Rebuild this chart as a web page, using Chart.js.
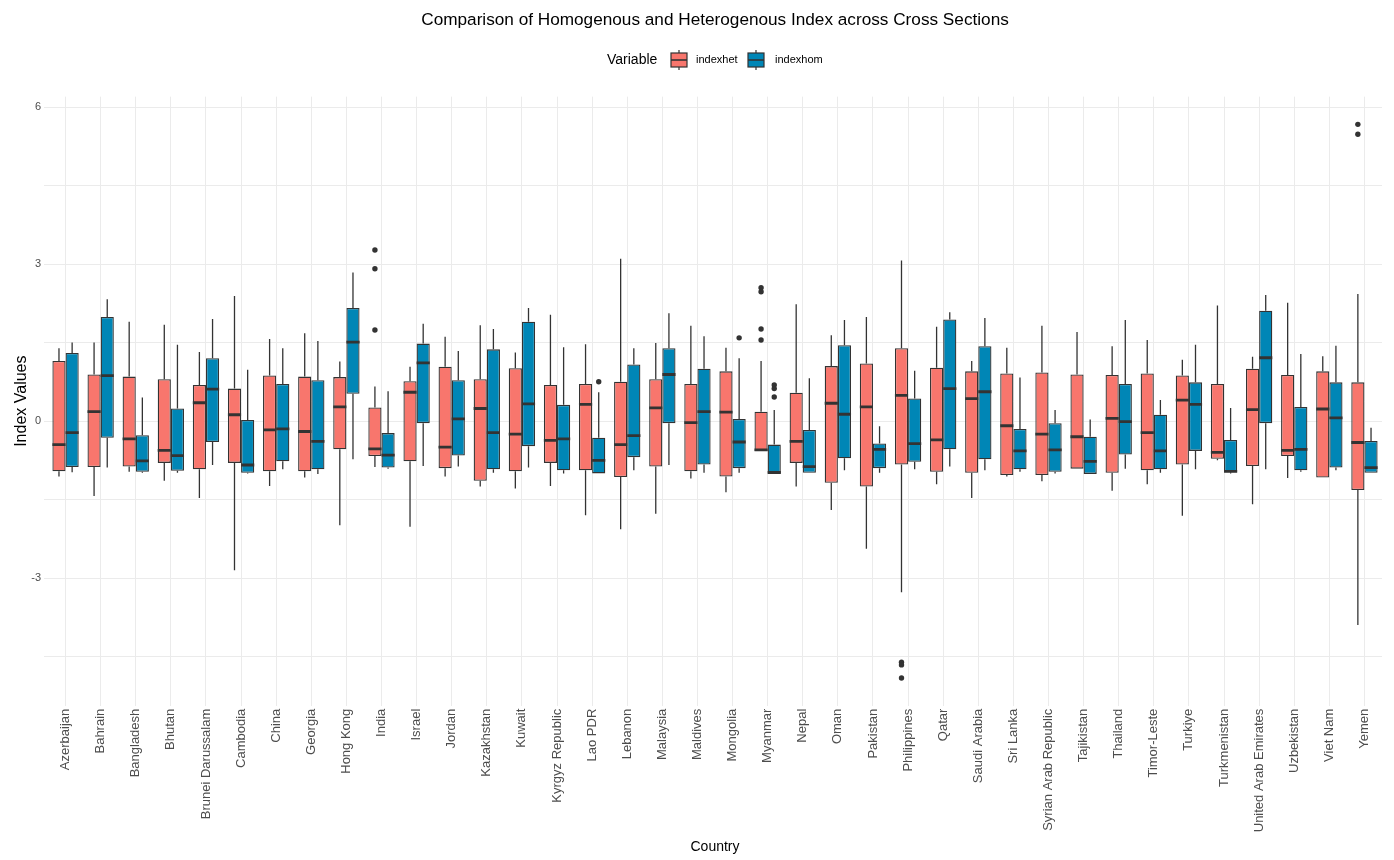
<!DOCTYPE html>
<html>
<head>
<meta charset="utf-8">
<title>Homogenous vs Heterogenous Index</title>
<script src="https://cdn.jsdelivr.net/npm/chart.js@4.4.1/dist/chart.umd.min.js"></script>
<style>
  html, body { margin: 0; padding: 0; background: #ffffff; }
  #wrap { width: 1394px; height: 860px; }
</style>
</head>
<body>
<div id="wrap"><canvas id="chart" width="1394" height="860"></canvas></div>
<script>
// ---- data -------------------------------------------------------------
const countries = [
  'Azerbaijan', 'Bahrain', 'Bangladesh', 'Bhutan', 'Brunei Darussalam', 'Cambodia',
  'China', 'Georgia', 'Hong Kong', 'India', 'Israel', 'Jordan', 'Kazakhstan', 'Kuwait',
  'Kyrgyz Republic', 'Lao PDR', 'Lebanon', 'Malaysia', 'Maldives', 'Mongolia', 'Myanmar',
  'Nepal', 'Oman', 'Pakistan', 'Philippines', 'Qatar', 'Saudi Arabia', 'Sri Lanka',
  'Syrian Arab Republic', 'Tajikistan', 'Thailand', 'Timor-Leste', 'Turkiye',
  'Turkmenistan', 'United Arab Emirates', 'Uzbekistan', 'Viet Nam', 'Yemen'
];

// indexhet: whisker ends, quartiles and median per country
const hetLow  = [-1.06,-1.43,-0.97,-1.14,-1.47,-2.85,-1.24,-1.08,-1.99,-0.88,-2.02,-1.06,-1.25,-1.29,-1.24,-1.80,-2.07,-1.77,-1.10,-1.36,-0.57,-1.25,-1.70,-2.44,-3.27,-1.21,-1.47,-1.06,-1.15,-0.91,-1.33,-1.21,-1.81,-0.75,-1.59,-1.09,-1.08,-3.90];
const hetQ1   = [-0.96,-0.88,-0.87,-0.80,-0.92,-0.80,-0.96,-0.96,-0.54,-0.67,-0.77,-0.90,-1.14,-0.96,-0.80,-0.94,-1.07,-0.87,-0.96,-1.06,-0.57,-0.80,-1.18,-1.25,-0.83,-0.97,-0.99,-1.03,-1.03,-0.91,-0.99,-0.94,-0.83,-0.72,-0.86,-0.67,-1.08,-1.32];
const hetMed  = [-0.45, 0.18,-0.34,-0.56, 0.35, 0.12,-0.17,-0.20, 0.27,-0.53, 0.55,-0.50, 0.24,-0.25,-0.37, 0.32,-0.45, 0.25,-0.03, 0.17,-0.55,-0.39, 0.34, 0.27, 0.49,-0.36, 0.43,-0.09,-0.25,-0.30, 0.05,-0.22, 0.40,-0.60, 0.22,-0.56, 0.23,-0.41];
const hetQ3   = [ 1.15, 0.89, 0.85, 0.80, 0.69, 0.62, 0.87, 0.85, 0.84, 0.26, 0.76, 1.04, 0.80, 1.01, 0.69, 0.71, 0.75, 0.80, 0.71, 0.95, 0.18, 0.54, 1.05, 1.10, 1.39, 1.02, 0.95, 0.91, 0.93, 0.89, 0.88, 0.91, 0.87, 0.71, 1.00, 0.88, 0.95, 0.74];
const hetHigh = [ 1.39, 1.50, 1.90, 1.84, 1.32, 2.39, 1.57, 1.68, 1.14, 0.66, 1.04, 1.61, 1.83, 1.31, 2.03, 1.47, 3.10, 1.49, 1.82, 1.40, 1.15, 2.23, 1.64, 1.99, 3.07, 1.80, 1.15, 1.40, 1.82, 1.70, 1.43, 1.55, 1.17, 2.21, 1.23, 2.26, 1.24, 2.43];
const hetOutliers = {
  'India': [3.27, 2.91, 1.74],
  'Myanmar': [2.55, 2.47, 1.76, 1.55],
  'Philippines': [-4.61, -4.66, -4.91],
  'Yemen': [5.67, 5.48]
};

// indexhom: whisker ends, quartiles and median per country
const homLow  = [-0.98,-0.89,-0.99,-0.99,-0.84,-1.00,-0.92,-1.01,-0.73,-0.91,-0.86,-0.87,-0.99,-0.89,-1.00,-1.00,-0.94,-0.84,-0.99,-0.99,-1.01,-0.99,-0.94,-0.99,-0.92,-0.87,-0.94,-0.97,-1.00,-1.01,-0.91,-0.99,-0.92,-1.00,-0.92,-0.97,-0.94,-0.99];
const homQ1   = [-0.88,-0.32,-0.97,-0.95,-0.40,-0.99,-0.77,-0.92, 0.52,-0.89,-0.04,-0.66,-0.92,-0.48,-0.94,-1.00,-0.69,-0.04,-0.83,-0.90,-1.01,-0.99,-0.71,-0.90,-0.78,-0.54,-0.73,-0.92,-0.97,-1.01,-0.64,-0.92,-0.57,-0.98,-0.04,-0.94,-0.89,-0.99];
const homMed  = [-0.22, 0.87,-0.76,-0.66, 0.61,-0.84,-0.15,-0.39, 1.51,-0.65, 1.11, 0.04,-0.22, 0.33,-0.34,-0.75,-0.28, 0.89, 0.18,-0.40,-0.98,-0.87, 0.13,-0.54,-0.43, 0.62, 0.56,-0.57,-0.55,-0.77,-0.01,-0.57, 0.32,-0.96, 1.21,-0.54, 0.06,-0.89];
const homQ3   = [ 1.30, 1.99,-0.27, 0.24, 1.20, 0.02, 0.71, 0.78, 2.16,-0.23, 1.48, 0.78, 1.37, 1.90, 0.31,-0.32, 1.08, 1.39, 1.00, 0.04,-0.45,-0.17, 1.45,-0.43, 0.43, 1.94, 1.43,-0.15,-0.04,-0.30, 0.71, 0.12, 0.74,-0.36, 2.11, 0.27, 0.74,-0.38];
const homHigh = [ 1.50, 2.33, 0.45, 1.46, 1.95, 0.98, 1.39, 1.53, 2.84, 0.57, 1.86, 1.34, 1.76, 2.16, 1.41, 0.55, 1.39, 2.06, 1.62, 1.20, 0.21, 0.82, 1.93,-0.10, 0.96, 2.08, 1.97, 0.83, 0.21, 0.03, 1.93, 0.40, 1.46, 0.25, 2.41, 1.28, 1.44,-0.13];
const homOutliers = {
  'Lao PDR': [0.75],
  'Mongolia': [1.59],
  'Myanmar': [0.69, 0.62, 0.46]
};

const yTickValues = [-4.5, -3, -1.5, 0, 1.5, 3, 4.5, 6];

// ---- styling ------------------------------------------------------------
const FONT = "'Liberation Sans', Arial, sans-serif";
const HET_FILL = '#F8766D';
const HOM_FILL = '#0086B6';
const INK = '#333333';
const GRID = '#ebebeb';

Chart.defaults.font.family = FONT;

function boxData(q1, q3) {
  return q1.map((lo, i) => [lo, q3[i]]);
}
function outlierList(map) {
  return countries.map(c => map[c] || []);
}

// whiskers, medians and outlier dots drawn around the floating bars
const boxplotParts = {
  id: 'boxplotParts',
  beforeDatasetsDraw(chart) {
    const { ctx, scales: { y }, chartArea } = chart;
    ctx.save();
    ctx.beginPath();
    ctx.rect(chartArea.left, chartArea.top, chartArea.width, chartArea.height);
    ctx.clip();
    ctx.strokeStyle = INK;
    ctx.lineWidth = 1.3;
    chart.data.datasets.forEach((ds, di) => {
      const meta = chart.getDatasetMeta(di);
      meta.data.forEach((bar, i) => {
        const { x } = bar.getProps(['x'], true);
        const s = ds.stats;
        ctx.beginPath();
        ctx.moveTo(x, y.getPixelForValue(s.high[i]));
        ctx.lineTo(x, y.getPixelForValue(s.q3[i]));
        ctx.moveTo(x, y.getPixelForValue(s.q1[i]));
        ctx.lineTo(x, y.getPixelForValue(s.low[i]));
        ctx.stroke();
      });
    });
    ctx.restore();
  },
  afterDatasetsDraw(chart) {
    const { ctx, scales: { y }, chartArea } = chart;
    ctx.save();
    ctx.beginPath();
    ctx.rect(chartArea.left, chartArea.top, chartArea.width, chartArea.height);
    ctx.clip();
    chart.data.datasets.forEach((ds, di) => {
      const meta = chart.getDatasetMeta(di);
      meta.data.forEach((bar, i) => {
        const { x, width } = bar.getProps(['x', 'width'], true);
        const s = ds.stats;
        const my = y.getPixelForValue(s.med[i]);
        ctx.strokeStyle = INK;
        ctx.lineWidth = 2.8;
        ctx.beginPath();
        ctx.moveTo(x - width / 2, my);
        ctx.lineTo(x + width / 2, my);
        ctx.stroke();
        ctx.fillStyle = INK;
        s.out[i].forEach(v => {
          ctx.beginPath();
          ctx.arc(x, y.getPixelForValue(v), 2.7, 0, Math.PI * 2);
          ctx.fill();
        });
      });
    });
    ctx.restore();
  }
};

// legend row: "Variable" followed by one boxplot key per series
const boxLegend = {
  id: 'boxLegend',
  afterDraw(chart) {
    const { ctx } = chart;
    const cy = 60;
    ctx.save();
    ctx.fillStyle = '#000000';
    ctx.textBaseline = 'middle';
    ctx.textAlign = 'left';
    ctx.font = `14px ${FONT}`;
    ctx.fillText('Variable', 607, cy);
    const keys = [
      { x: 671, fill: HET_FILL, label: chart.data.datasets[0].label, tx: 696 },
      { x: 748, fill: HOM_FILL, label: chart.data.datasets[1].label, tx: 775 }
    ];
    keys.forEach(k => {
      const w = 16, h = 14, mid = k.x + w / 2;
      ctx.strokeStyle = INK;
      ctx.lineWidth = 1.2;
      ctx.beginPath();
      ctx.moveTo(mid, cy - 10); ctx.lineTo(mid, cy - h / 2);
      ctx.moveTo(mid, cy + h / 2); ctx.lineTo(mid, cy + 10);
      ctx.stroke();
      ctx.fillStyle = k.fill;
      ctx.fillRect(k.x, cy - h / 2, w, h);
      ctx.strokeRect(k.x, cy - h / 2, w, h);
      ctx.lineWidth = 1.6;
      ctx.beginPath();
      ctx.moveTo(k.x, cy); ctx.lineTo(k.x + w, cy);
      ctx.stroke();
      ctx.fillStyle = '#000000';
      ctx.font = `11px ${FONT}`;
      ctx.fillText(k.label, k.tx, cy);
    });
    ctx.restore();
  }
};

new Chart(document.getElementById('chart'), {
  type: 'bar',
  data: {
    labels: countries,
    datasets: [
      {
        label: 'indexhet',
        data: boxData(hetQ1, hetQ3),
        stats: { low: hetLow, q1: hetQ1, med: hetMed, q3: hetQ3, high: hetHigh, out: outlierList(hetOutliers) },
        backgroundColor: HET_FILL,
        borderColor: INK,
        borderWidth: 1.3,
        borderSkipped: false
      },
      {
        label: 'indexhom',
        data: boxData(homQ1, homQ3),
        stats: { low: homLow, q1: homQ1, med: homMed, q3: homQ3, high: homHigh, out: outlierList(homOutliers) },
        backgroundColor: HOM_FILL,
        borderColor: INK,
        borderWidth: 1.3,
        borderSkipped: false
      }
    ]
  },
  options: {
    responsive: false,
    animation: false,
    devicePixelRatio: 1,
    datasets: { bar: { categoryPercentage: 0.75, barPercentage: 1.0 } },
    layout: { padding: { left: 0, right: 12, top: 0, bottom: 0 } },
    plugins: {
      legend: { display: false },
      tooltip: { enabled: false },
      title: {
        display: true,
        fullSize: false,
        text: 'Comparison of Homogenous and Heterogenous Index across Cross Sections',
        color: '#000000',
        font: { size: 17.2, weight: 'normal', lineHeight: 1.2 },
        padding: { top: 10, bottom: 66 }
      }
    },
    scales: {
      x: {
        type: 'category',
        offset: true,
        border: { display: false },
        grid: { offset: false, color: GRID, lineWidth: 1, drawTicks: false },
        ticks: {
          autoSkip: false, minRotation: 90, maxRotation: 90, padding: 3,
          color: '#4d4d4d', font: { size: 13 }
        },
        title: {
          display: true, text: 'Country', color: '#000000',
          font: { size: 14, lineHeight: 1.2 }, padding: { top: 0, bottom: 4 }
        },
        afterFit(scale) { scale.height = 154.3; }
      },
      y: {
        min: -5.44,
        max: 6.2,
        border: { display: false },
        afterBuildTicks(scale) { scale.ticks = yTickValues.map(v => ({ value: v })); },
        grid: { color: GRID, lineWidth: 1, drawTicks: true, tickLength: 4, tickColor: GRID },
        ticks: {
          padding: 3, color: '#4d4d4d', font: { size: 11 },
          callback: v => (v % 3 === 0 ? String(v) : '')
        },
        title: {
          display: true, text: 'Index Values', color: '#000000',
          font: { size: 16, lineHeight: 1.2 }, padding: { top: 12, bottom: 0 }
        },
        afterFit(scale) { scale.width = 48; }
      }
    }
  },
  plugins: [boxplotParts, boxLegend]
});
</script>
</body>
</html>
